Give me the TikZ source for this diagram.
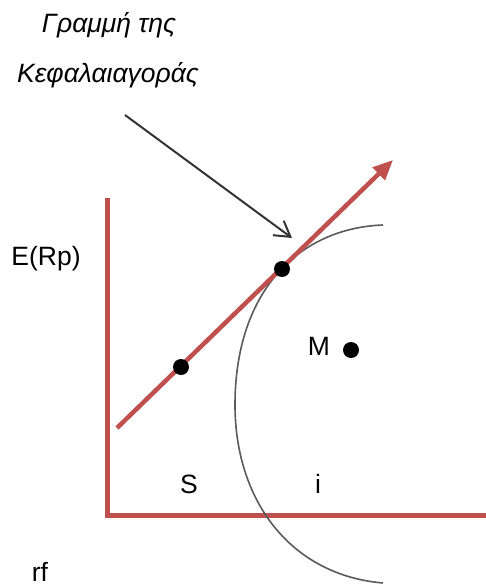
\documentclass[tikz,border=0pt]{standalone}
\usepackage{fontspec}
\setmainfont{Liberation Sans}
\usepackage{xcolor}
\usetikzlibrary{arrows.meta}

\definecolor{rojoeje}{HTML}{C0504D}
\definecolor{grisfrontera}{HTML}{5A5A5A}

\tikzset{
    punto/.style={circle, fill=black, inner sep=0pt, minimum size=16pt},
    etiqueta/.style={anchor=base, inner sep=0pt}
}

\begin{document}
\begin{tikzpicture}[x=1pt, y=-1pt,
    >={Stealth},
    font=\fontsize{26.5}{31}\selectfont]

    \useasboundingbox (0,0) rectangle (486,586);

    % Ejes
    \draw[rojoeje, line width=5pt] (107,198) -- (107,515) -- (486,515);

    % Frontera eficiente
    \draw[grisfrontera, line width=1.6pt]
        (383,225) .. controls (300,228) and (235,290) .. (235,405)
                  .. controls (235,500) and (290,575) .. (383,583);

    % Linea del mercado de capitales
    \coordinate (lmc-ini) at (117,428);
    \coordinate (lmc-fin) at (393,160);
    \draw[rojoeje, line width=4.5pt,
        -{Triangle[length=20pt, width=17pt]}] (lmc-ini) -- (lmc-fin);

    % Puntos
    \node[punto] (tang) at (282,269) {};
    \node[punto] (puntoS) at (181,367) {};
    \node[punto] (puntoM) at (351,350) {};

    % Flecha del titulo
    \coordinate (flecha-ini) at (125,115);
    \coordinate (flecha-fin) at (292,238);
    \draw[black!80, line width=2pt,
        -{Straight Barb[length=15pt, width=18pt]}] (flecha-ini) -- (flecha-fin);

    % Etiquetas
    \node[etiqueta] (titulo1) at (109,33) {\itshape Γραμμή της};
    \node[etiqueta] (titulo2) at (108,82) {\itshape Κεφαλαιαγοράς};
    \node[etiqueta] (erp)     at (46,265)  {E(Rp)};
    \node[etiqueta] (rf)      at (40,581)  {rf};
    \node[etiqueta] (lblS)    at (189,493) {S};
    \node[etiqueta] (lblI)    at (318,493) {i};
    \node[etiqueta] (lblM)    at (319,355) {M};
\end{tikzpicture}
\end{document}
